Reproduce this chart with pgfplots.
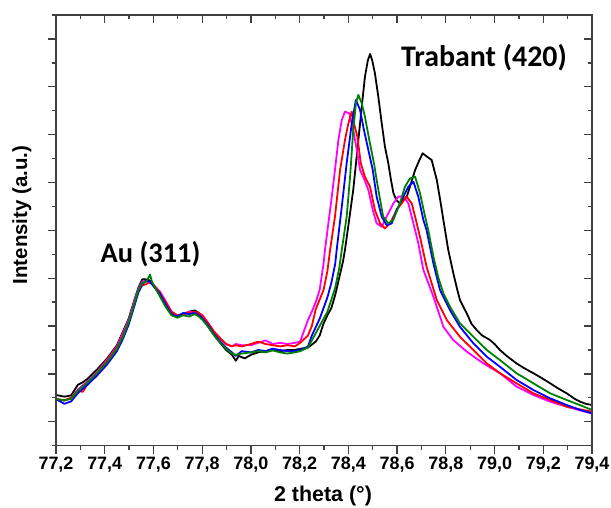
\documentclass[border=0pt]{standalone}
\usepackage{pgfplots}
\pgfplotsset{compat=1.18}
\usepackage{fontspec}
\setmainfont{Liberation Sans}
\newfontfamily\calibri{Carlito}
\definecolor{axisgray}{HTML}{404040}
\definecolor{mygreen}{HTML}{008000}
\definecolor{mymagenta}{HTML}{FF00FF}
\begin{document}
\begin{tikzpicture}
\pgfplotsset{
 common/.style={
  scale only axis, width=536bp, height=430.7bp,
  xmin=77.2, xmax=79.4, ymin=0, ymax=18,
  xtick={77.2,77.4,77.6,77.8,78.0,78.2,78.4,78.6,78.8,79.0,79.2,79.4},
  minor xtick={77.3,77.5,77.7,77.9,78.1,78.3,78.5,78.7,78.9,79.1,79.3},
  ytick={1,3,5,7,9,11,13,15,17},
  minor ytick={0,2,4,6,8,10,12,14,16,18},
  major tick length=8bp, minor tick length=4bp,
  axis line style={axisgray, line width=1.4bp},
  tick style={axisgray, line width=1.3bp},
  yticklabels={},
 },
 curve/.style={line width=1.8bp, line join=round, mark=none},
}
\begin{axis}[common,
  tick align=outside, xtick pos=left, ytick pos=left,
  xticklabels={{77,2},{77,4},{77,6},{77,8},{78,0},{78,2},{78,4},{78,6},{78,8},{79,0},{79,2},{79,4}},
  xticklabel style={font=\fontsize{18}{20}\selectfont\bfseries},
]
% black
\addplot[curve, black] table[x=x, y=y] {
x y
77.200 2.12
77.234 2.05
77.262 2.10
77.290 2.55
77.310 2.65
77.330 2.80
77.370 3.20
77.410 3.65
77.450 4.20
77.474 4.75
77.498 5.30
77.522 6.10
77.538 6.60
77.554 6.95
77.570 6.95
77.586 6.90
77.602 6.65
77.626 6.30
77.650 5.85
77.674 5.50
77.698 5.40
77.722 5.50
77.746 5.60
77.770 5.65
77.786 5.55
77.802 5.35
77.826 4.95
77.850 4.60
77.874 4.30
77.898 4.00
77.922 3.80
77.938 3.55
77.950 3.75
77.975 3.65
78.000 3.80
78.030 3.90
78.060 3.95
78.090 4.05
78.120 3.95
78.150 4.00
78.180 4.00
78.202 4.05
78.234 4.10
78.266 4.35
78.282 4.60
78.298 5.10
78.314 5.45
78.330 5.75
78.346 6.30
78.362 7.00
78.378 7.70
78.386 8.18
78.400 9.20
78.420 10.69
78.441 12.77
78.455 14.17
78.468 15.42
78.480 16.10
78.489 16.37
78.498 16.10
78.509 15.56
78.523 14.58
78.537 13.47
78.550 12.50
78.564 11.80
78.575 11.10
78.585 10.55
78.598 10.25
78.612 10.13
78.626 10.30
78.640 10.41
78.658 11.00
78.674 11.52
78.690 11.90
78.705 12.22
78.720 12.10
78.742 11.94
78.763 11.10
78.778 10.20
78.790 9.43
78.810 8.18
78.831 7.20
78.845 6.60
78.858 6.09
78.872 5.80
78.886 5.53
78.905 5.10
78.927 4.83
78.950 4.60
78.981 4.42
79.000 4.25
79.022 4.00
79.050 3.75
79.090 3.44
79.120 3.25
79.159 3.03
79.190 2.85
79.228 2.61
79.260 2.40
79.296 2.19
79.330 1.95
79.351 1.84
79.375 1.75
79.400 1.70
};
% magenta
\addplot[curve, mymagenta] table[x=x, y=y] {
x y
77.200 1.95
77.234 1.88
77.262 2.00
77.290 2.35
77.330 2.70
77.370 3.10
77.410 3.60
77.450 4.15
77.474 4.70
77.498 5.25
77.522 6.05
77.538 6.55
77.554 6.85
77.570 6.90
77.586 6.80
77.602 6.70
77.626 6.45
77.650 6.05
77.674 5.60
77.698 5.45
77.722 5.45
77.746 5.60
77.770 5.55
77.786 5.55
77.802 5.45
77.826 5.10
77.850 4.75
77.874 4.45
77.898 4.25
77.922 4.15
77.938 4.25
77.962 4.20
78.000 4.20
78.030 4.30
78.060 4.40
78.090 4.25
78.120 4.30
78.150 4.25
78.180 4.30
78.202 4.35
78.218 4.80
78.234 5.25
78.250 5.60
78.266 6.00
78.282 6.50
78.298 7.60
78.304 8.18
78.318 9.30
78.332 10.41
78.345 11.52
78.359 12.77
78.373 13.61
78.386 13.96
78.404 13.89
78.420 13.19
78.437 12.22
78.448 11.52
78.461 11.24
78.482 10.69
78.500 9.85
78.516 9.29
78.537 9.15
78.557 9.57
78.585 10.13
78.605 10.41
78.626 10.41
78.646 10.13
78.667 9.29
78.687 8.46
78.708 7.34
78.749 6.23
78.790 4.97
78.830 4.42
78.886 3.93
78.954 3.44
79.022 3.03
79.090 2.47
79.159 2.12
79.228 1.84
79.296 1.63
79.350 1.48
79.400 1.35
};
% red
\addplot[curve, red] table[x=x, y=y] {
x y
77.200 1.95
77.234 1.90
77.262 2.00
77.290 2.30
77.310 2.25
77.330 2.60
77.370 3.05
77.410 3.55
77.450 4.10
77.474 4.60
77.498 5.15
77.522 5.95
77.538 6.45
77.554 6.70
77.570 6.75
77.586 6.85
77.602 6.70
77.626 6.40
77.650 6.00
77.674 5.60
77.698 5.45
77.722 5.50
77.746 5.55
77.770 5.60
77.786 5.55
77.802 5.40
77.826 5.10
77.850 4.75
77.874 4.50
77.898 4.25
77.922 4.15
77.938 4.20
77.962 4.15
78.000 4.25
78.030 4.35
78.060 4.25
78.090 4.20
78.120 4.15
78.150 4.20
78.180 4.15
78.202 4.30
78.234 4.60
78.250 5.00
78.266 5.70
78.282 6.10
78.298 6.50
78.314 7.30
78.325 8.18
78.345 9.57
78.366 11.52
78.386 12.77
78.400 13.47
78.414 13.96
78.423 13.47
78.437 12.91
78.451 11.80
78.468 11.24
78.489 10.82
78.509 9.85
78.530 9.29
78.550 9.08
78.571 9.29
78.598 9.85
78.619 10.13
78.639 10.41
78.660 10.13
78.674 9.57
78.694 8.73
78.721 7.48
78.763 6.09
78.804 5.25
78.858 4.55
78.913 4.00
78.968 3.44
79.022 3.03
79.090 2.61
79.159 2.19
79.228 1.91
79.296 1.63
79.350 1.52
79.400 1.42
};
% blue
\addplot[curve, blue] table[x=x, y=y] {
x y
77.200 1.95
77.234 1.75
77.262 1.85
77.290 2.20
77.330 2.55
77.370 2.95
77.410 3.40
77.450 3.95
77.474 4.45
77.498 5.05
77.522 5.85
77.538 6.40
77.554 6.75
77.570 6.90
77.586 6.85
77.602 6.65
77.626 6.35
77.650 5.90
77.674 5.50
77.698 5.40
77.722 5.55
77.746 5.50
77.770 5.55
77.786 5.45
77.802 5.30
77.826 5.00
77.850 4.65
77.874 4.35
77.898 4.10
77.922 3.90
77.938 3.75
77.962 3.95
78.000 3.90
78.030 4.00
78.060 3.95
78.090 4.05
78.120 4.00
78.150 3.95
78.180 3.95
78.202 4.00
78.234 4.14
78.250 4.60
78.282 5.30
78.314 6.20
78.330 6.80
78.346 7.60
78.352 8.18
78.373 9.99
78.393 11.80
78.414 13.47
78.431 14.45
78.448 14.03
78.464 13.19
78.482 12.36
78.500 11.52
78.516 10.41
78.537 9.57
78.557 9.22
78.578 9.29
78.598 9.85
78.626 10.41
78.646 10.82
78.667 11.03
78.687 10.41
78.708 9.43
78.721 9.01
78.749 7.62
78.776 6.51
78.817 5.67
78.858 4.97
78.913 4.28
78.968 3.72
79.022 3.30
79.090 2.75
79.159 2.33
79.228 1.98
79.296 1.70
79.350 1.50
79.400 1.35
};
% green
\addplot[curve, mygreen] table[x=x, y=y] {
x y
77.200 1.95
77.234 1.90
77.262 1.95
77.290 2.30
77.330 2.65
77.370 3.05
77.410 3.50
77.450 4.05
77.474 4.55
77.498 5.15
77.522 5.95
77.538 6.50
77.554 6.80
77.570 6.85
77.586 7.15
77.594 6.85
77.610 6.55
77.626 6.25
77.650 5.80
77.674 5.45
77.698 5.35
77.722 5.45
77.746 5.40
77.770 5.50
77.786 5.40
77.802 5.25
77.826 4.95
77.850 4.60
77.874 4.30
77.898 4.05
77.922 3.85
77.938 3.80
77.962 3.85
78.000 3.90
78.030 3.95
78.060 3.90
78.090 3.98
78.120 3.90
78.150 3.85
78.180 3.90
78.202 3.95
78.234 4.10
78.250 4.40
78.282 5.00
78.314 5.60
78.346 6.60
78.362 7.40
78.373 8.18
78.393 9.57
78.407 11.24
78.420 13.19
78.431 14.31
78.441 14.66
78.455 14.31
78.468 13.75
78.486 12.77
78.505 11.80
78.523 10.69
78.543 9.57
78.564 9.29
78.584 9.43
78.612 10.13
78.632 10.82
78.653 11.17
78.674 11.24
78.694 10.55
78.715 9.57
78.728 9.01
78.749 7.90
78.770 7.00
78.790 6.37
78.817 5.81
78.858 5.11
78.913 4.55
78.968 4.00
79.022 3.58
79.090 3.03
79.159 2.61
79.228 2.19
79.296 1.91
79.350 1.70
79.400 1.49
};
\end{axis}
\begin{axis}[common,
  tick align=inside, xtick pos=right, ytick pos=right,
  xticklabels={},
]
\end{axis}
\node[anchor=base, font=\fontsize{30}{36}\selectfont\calibri\bfseries] at (428bp,379bp) {Trabant (420)};
\node[anchor=base, font=\fontsize{28.5}{34}\selectfont\calibri\bfseries] at (94.5bp,182.7bp) {Au (311)};
\node[anchor=base, rotate=90, font=\fontsize{20.5}{24}\selectfont\bfseries] at (-29bp,230.7bp) {Intensity (a.u.)};
\node[anchor=base, font=\fontsize{21.5}{25}\selectfont\bfseries] at (267bp,-55.3bp) {2 theta (°)};
\pgfresetboundingbox
\path[use as bounding box] (-56bp,-62.3bp) rectangle (555bp,445.7bp);
\end{tikzpicture}
\end{document}
